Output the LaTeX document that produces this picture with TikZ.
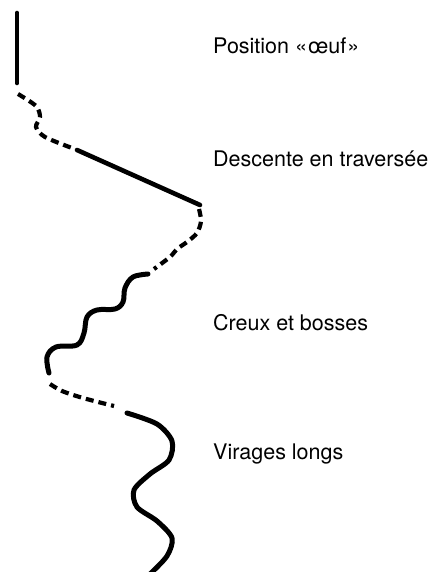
\documentclass[tikz,border=0pt]{standalone}
\usepackage{fontspec}
\setmainfont{TeX Gyre Heros}
\begin{document}
\begin{tikzpicture}[x=1pt, y=-1pt, solid/.style = {line width=4.6pt, line cap=round}, gap/.style = {line width=4.2pt, dash pattern=on 8pt off 5pt}, label/.style = {anchor=base west, inner sep=0pt, font=\fontsize{21.5}{25}\selectfont}]
\useasboundingbox (0,0) rectangle (430,572);
\node[label] (oeuf) at (213,54) {Position «\kern1pt œuf\kern1pt»};
\node[label] (trav) at (213,166) {Descente en traversée};
\node[label] (creux) at (213,330) {Creux et bosses};
\node[label] (virages) at (213,459) {Virages longs};
\coordinate (a) at (17,13);
\coordinate (b) at (17,83);
\coordinate (c) at (77,150);
\coordinate (d) at (200,205);
\draw[solid] (a) -- (b);
\draw[gap] plot[smooth] coordinates {(18,94) (36,106) (40,117) (36,127) (45,137) (72,148)};
\draw[solid] (c) -- (d);
\draw[gap] plot[smooth] coordinates {(199,209) (201,221) (197,233) (187,242) (177,249) (170,257) (154,269)};
\draw[solid, line width=5pt] plot[smooth, tension=0.6] coordinates {(148,274) (133,277) (125,288) (123,302) (115,309) (97,310) (87,317) (84,333) (77,345) (56,347) (47,357) (49,373)};
\draw[gap] plot[smooth] coordinates {(50,384) (62,391) (83,398) (114,406)};
\draw[solid, line width=5pt] plot[smooth] coordinates {(127,413) (157,424) (172,441) (169,460) (150,474) (134,490) (137,507) (157,521) (172,538) (167,556) (150,574)};
\end{tikzpicture}
\end{document}
